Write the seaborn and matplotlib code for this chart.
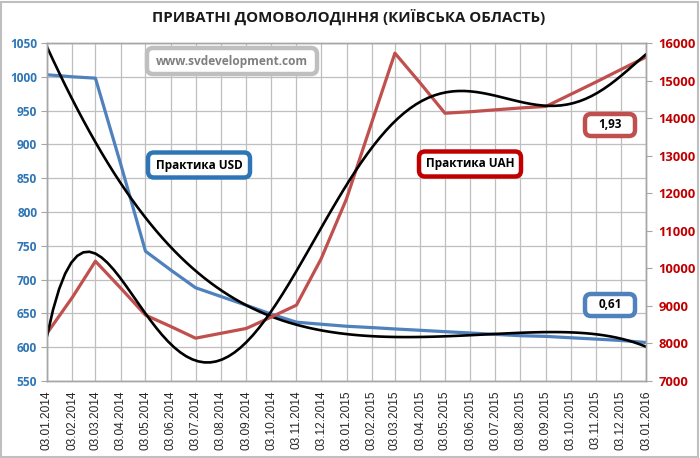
import numpy as np
import pandas as pd
import matplotlib
matplotlib.use("Agg")
import matplotlib.pyplot as plt
import seaborn as sns
from matplotlib.patches import FancyBboxPatch
from matplotlib.transforms import IdentityTransform

# Дані
dates = ["03.01.2014", "03.02.2014", "03.03.2014", "03.04.2014", "03.05.2014",
         "03.06.2014", "03.07.2014", "03.08.2014", "03.09.2014", "03.10.2014",
         "03.11.2014", "03.12.2014", "03.01.2015", "03.02.2015", "03.03.2015",
         "03.04.2015", "03.05.2015", "03.06.2015", "03.07.2015", "03.08.2015",
         "03.09.2015", "03.10.2015", "03.11.2015", "03.12.2015", "03.01.2016"]

usd = [1003, 1000, 998, 870, 742, 714, 688, 675, 662, 649, 637, 634, 631,
       629, 627, 625, 623, 621, 619, 617, 616, 614, 612, 610, 607]
uah = [8270, 9230, 10190, 9470, 8755, 8450, 8140, 8270, 8400, 8700, 9020, 10250,
       11850, 13900, 15730, 14930, 14130, 14170, 14220, 14270, 14310, 14630,
       14960, 15290, 15625]

# тренди (чорні криві)
trend_usd = [1044, 966, 904, 843, 791, 749, 712, 682, 661, 647, 636, 626, 619,
             616, 614.5, 614, 615, 617, 620, 623, 624, 622, 618, 611, 602]
trend_uah = [8140, 10300, 10440, 9600, 8755, 7910, 7650, 7665, 8040, 8800, 9950,
             10970, 12150, 13300, 13950, 14430, 14670, 14740, 14605, 14430, 14310,
             14340, 14650, 15180, 15670]

BLUE = "#4F81BD"
RED = "#C0504D"
GRID = "#BFBFBF"
FONT = ["Open Sans", "DejaVu Sans"]

dt = pd.to_datetime(dates, format="%d.%m.%Y")
df = pd.DataFrame({
    "day": (dt - dt[0]).days.astype(float),
    "usd": usd, "uah": uah,
    "trend_usd": trend_usd, "trend_uah": trend_uah,
})

sns.set_style("white")
plt.rcParams["font.family"] = FONT

fig = plt.figure(figsize=(7, 4.58), dpi=100)
ax = fig.add_axes([47 / 700, 1 - 381 / 458, 599 / 700, 338 / 458])
ax2 = ax.twinx()

sns.lineplot(data=df, x="day", y="usd", ax=ax, color=BLUE, lw=2.3)
sns.regplot(data=df, x="day", y="trend_usd", order=6, scatter=False, ci=None,
            truncate=True, ax=ax, line_kws=dict(color="black", lw=1.9))
sns.lineplot(data=df, x="day", y="uah", ax=ax2, color=RED, lw=2.3)
sns.regplot(data=df, x="day", y="trend_uah", order=6, scatter=False, ci=None,
            truncate=True, ax=ax2, line_kws=dict(color="black", lw=1.9))

ax.set_xlim(df["day"].iloc[0], df["day"].iloc[-1])
ax.set_ylim(550, 1050)
ax2.set_ylim(7000, 16000)
ax.set_xticks(df["day"])
ax.set_xticklabels(dates, rotation=90, fontsize=8.6, family=["Liberation Sans", "DejaVu Sans"], color="#262626")
ax.set_yticks(range(550, 1051, 50))
ax2.set_yticks(range(7000, 16001, 1000))
for t in ax.get_yticklabels():
    t.set_fontweight("bold")
    t.set_fontsize(8.6)
    t.set_color("#2E75B6")
for t in ax2.get_yticklabels():
    t.set_fontweight("bold")
    t.set_fontsize(9.4)
    t.set_color("#C00000")
for a in (ax, ax2):
    a.set_xlabel("")
    a.set_ylabel("")
    for s in a.spines.values():
        s.set_color("#A6A6A6")
        s.set_linewidth(1.0)
ax.grid(True, color=GRID, lw=0.9)
ax.set_axisbelow(True)
ax.tick_params(axis="both", length=4, color="#A6A6A6", pad=3)
ax2.tick_params(axis="y", length=4, color="#A6A6A6", pad=5)

# заголовок
fig.text(349 / 700, 1 - 17 / 458, "ПРИВАТНІ ДОМОВОЛОДІННЯ (КИЇВСЬКА ОБЛАСТЬ)",
         ha="center", va="center", fontsize=10.8, fontweight="bold", color="#1a1a1a")

# рамки з підписами
def box(cx, cy, w, h, text, ec, tc="black", size=8.5):
    y = 458 - cy
    p = FancyBboxPatch((cx - w / 2, y - h / 2), w, h,
                       boxstyle="round,pad=0,rounding_size=6",
                       transform=IdentityTransform(), fc="white", ec=ec, lw=3.2)
    fig.patches.append(p)
    fig.text(cx / 700, y / 458, text, ha="center", va="center",
             fontsize=size, fontweight="bold", color=tc)

box(232, 61, 170, 26, "www.svdevelopment.com", "#BFBFBF", tc="#7F7F7F", size=8.6)
box(199, 165, 102, 25, "Практика USD", "#2E75B6")
box(470, 164, 102, 25, "Практика UAH", "#C00000")
box(610, 125, 50, 22, "1,93", RED)
box(610, 305, 50, 22, "0,61", BLUE)

# рамка навколо рисунка
fig.patches.append(plt.Rectangle((1, 1), 697, 455, transform=IdentityTransform(),
                                 fill=False, ec="#BFBFBF", lw=1.5))

fig.savefig("out.png", dpi=100)
